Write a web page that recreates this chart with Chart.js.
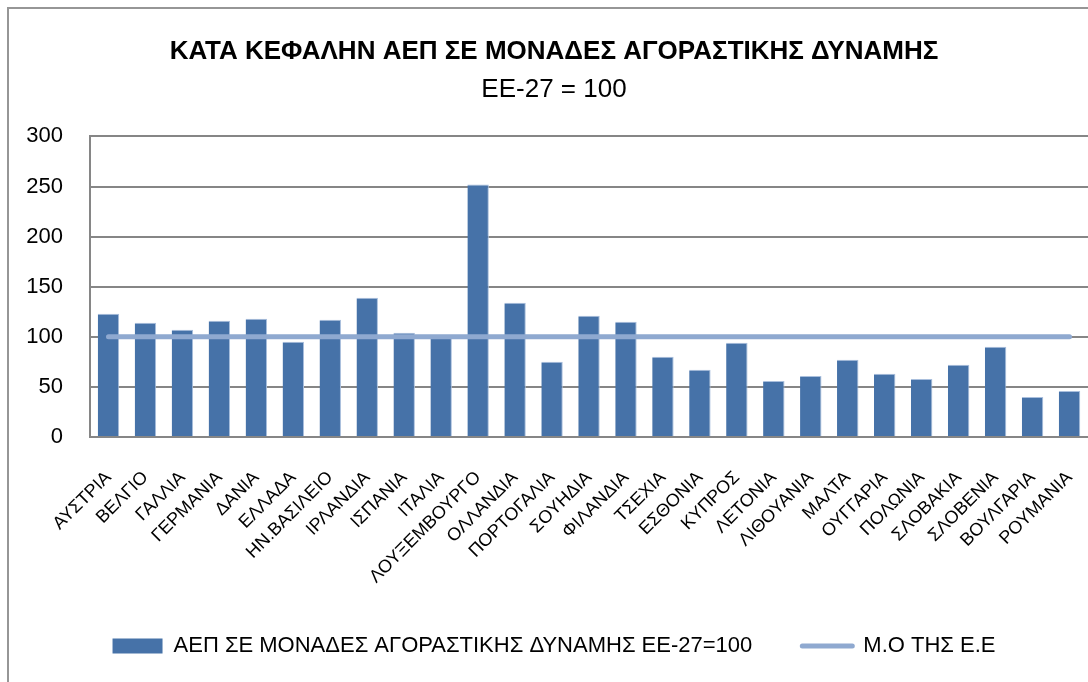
<!DOCTYPE html>
<html lang="el">
  <head>
    <meta charset="utf-8" />
    <title>Κατά κεφαλήν ΑΕΠ</title>
    <script src="https://cdn.jsdelivr.net/npm/chart.js@4.4.1/dist/chart.umd.min.js"></script>
    <style>
      * { margin: 0; padding: 0; box-sizing: border-box; }
      html, body { width: 1088px; height: 682px; overflow: hidden; background: #fff; }
      .frame {
        position: absolute;
        left: 7px;
        top: 7px;
        width: 1200px;
        height: 800px;
        border: 2px solid #969696;
      }
      .box { position: absolute; left: 0; top: 0; width: 1088px; height: 682px; }
    </style>
  </head>
  <body>
    <div class="frame"></div>
    <div class="box"><canvas id="chart"></canvas></div>
    <script>
      // data
      const countries = [
        "ΑΥΣΤΡΙΑ", "ΒΕΛΓΙΟ", "ΓΑΛΛΙΑ", "ΓΕΡΜΑΝΙΑ", "ΔΑΝΙΑ", "ΕΛΛΑΔΑ", "ΗΝ.ΒΑΣΙΛΕΙΟ",
        "ΙΡΛΑΝΔΙΑ", "ΙΣΠΑΝΙΑ", "ΙΤΑΛΙΑ", "ΛΟΥΞΕΜΒΟΥΡΓΟ", "ΟΛΛΑΝΔΙΑ", "ΠΟΡΤΟΓΑΛΙΑ",
        "ΣΟΥΗΔΙΑ", "ΦΙΛΑΝΔΙΑ", "ΤΣΕΧΙΑ", "ΕΣΘΟΝΙΑ", "ΚΥΠΡΟΣ", "ΛΕΤΟΝΙΑ", "ΛΙΘΟΥΑΝΙΑ",
        "ΜΑΛΤΑ", "ΟΥΓΓΑΡΙΑ", "ΠΟΛΩΝΙΑ", "ΣΛΟΒΑΚΙΑ", "ΣΛΟΒΕΝΙΑ", "ΒΟΥΛΓΑΡΙΑ", "ΡΟΥΜΑΝΙΑ"
      ];
      const gdpPps = [
        123, 114, 107, 116, 118, 95, 117, 139, 104, 100, 252, 134, 75,
        121, 115, 80, 67, 94, 56, 61, 77, 63, 58, 72, 90, 40, 46
      ];
      const euAverage = [
        100, 100, 100, 100, 100, 100, 100, 100, 100, 100, 100, 100, 100, 100,
        100, 100, 100, 100, 100, 100, 100, 100, 100, 100, 100, 100, 100
      ];
      const yTicks = [0, 50, 100, 150, 200, 250, 300];

      const titleText = "ΚΑΤΑ ΚΕΦΑΛΗΝ ΑΕΠ ΣΕ ΜΟΝΑΔΕΣ ΑΓΟΡΑΣΤΙΚΗΣ ΔΥΝΑΜΗΣ";
      const subtitleText = "ΕΕ-27 = 100";
      const barLabel = "ΑΕΠ ΣΕ ΜΟΝΑΔΕΣ ΑΓΟΡΑΣΤΙΚΗΣ ΔΥΝΑΜΗΣ ΕΕ-27=100";
      const lineLabel = "Μ.Ο ΤΗΣ Ε.Ε";

      const face = '"Liberation Sans Narrow", "Liberation Sans", sans-serif';
      const wideFace = '"Liberation Sans", sans-serif';
      const gridGrey = "#868686";

      new Chart(document.getElementById("chart"), {
        data: {
          labels: countries,
          datasets: [
            {
              type: "line",
              label: lineLabel,
              data: euAverage,
              borderColor: "#8FA9D0",
              backgroundColor: "#8FA9D0",
              borderWidth: 5,
              borderCapStyle: "round",
              pointRadius: 0,
              order: 0
            },
            {
              type: "bar",
              label: barLabel,
              data: gdpPps,
              backgroundColor: "#4672A8",
              borderColor: "#A9BFDD",
              borderWidth: { top: 1, right: 1, left: 0, bottom: 0 },
              categoryPercentage: 1,
              barPercentage: 0.58,
              order: 1
            }
          ]
        },
        options: {
          responsive: true,
          maintainAspectRatio: false,
          animation: false,
          layout: { padding: { left: 20, right: 0, top: 0, bottom: 15 } },
          plugins: {
            tooltip: { enabled: false },
            title: {
              display: true,
              text: titleText,
              color: "#000",
              font: { family: face, size: 26, weight: "bold" },
              padding: { top: 36, bottom: 0 }
            },
            subtitle: {
              display: true,
              text: subtitleText,
              color: "#000",
              font: { family: face, size: 26, weight: "normal" },
              padding: { top: 7, bottom: 31 }
            },
            legend: {
              position: "bottom",
              reverse: true,
              labels: {
                color: "#000",
                font: { family: face, size: 22 },
                usePointStyle: true,
                pointStyleWidth: 50,
                boxHeight: 15,
                padding: 50,
                generateLabels: (chart) =>
                  chart.data.datasets.map((ds, i) => ({
                    text: ds.label,
                    datasetIndex: i,
                    fillStyle: ds.backgroundColor,
                    strokeStyle: ds.type === "line" ? ds.borderColor : ds.backgroundColor,
                    lineWidth: ds.type === "line" ? 5 : 0,
                    lineCap: "round",
                    pointStyle: ds.type === "line" ? "line" : "rect",
                    hidden: false
                  }))
              }
            }
          },
          scales: {
            x: {
              grid: { display: false, drawTicks: false },
              border: { display: true, color: gridGrey, width: 2 },
              ticks: {
                color: "#000",
                font: { family: face, size: 18 },
                maxRotation: 45,
                minRotation: 45,
                autoSkip: false,
                padding: 30
              },
              afterFit: (scale) => {
                scale.height = 148;
                scale.paddingLeft = 0;
                scale.paddingRight = 0;
              }
            },
            y: {
              min: 0,
              max: 300,
              afterBuildTicks: (scale) => { scale.ticks = yTicks.map((v) => ({ value: v })); },
              grid: { color: gridGrey, lineWidth: 2, drawTicks: false },
              border: { display: true, color: gridGrey, width: 2 },
              ticks: {
                color: "#000",
                font: { family: wideFace, size: 22 },
                padding: 27
              },
              afterFit: (scale) => { scale.width = 70; }
            }
          }
        }
      });
    </script>
  </body>
</html>
